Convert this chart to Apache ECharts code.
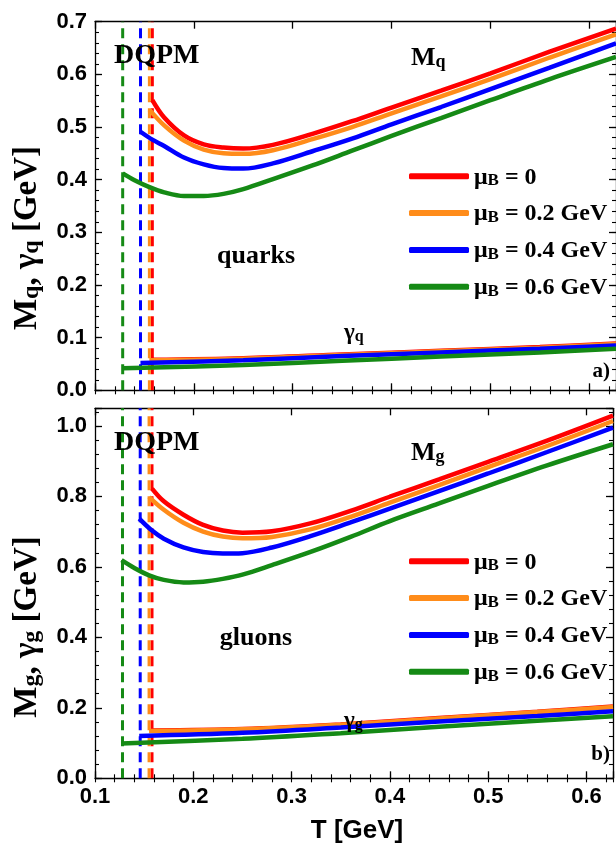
<!DOCTYPE html>
<html><head><meta charset="utf-8">
<script src="https://cdn.jsdelivr.net/npm/echarts@6/dist/echarts.min.js"></script>
<style>html,body{margin:0;padding:0;background:#fff}#c{width:616px;height:850px}</style>
</head><body><div id="c"></div>
<script>
// ---- data ----
const seriesNames = ['μB = 0', 'μB = 0.2 GeV', 'μB = 0.4 GeV', 'μB = 0.6 GeV'];
const legendValues = ['0', '0.2 GeV', '0.4 GeV', '0.6 GeV'];
const colors = ['#ff0000', '#ff8c1a', '#0000ff', '#158a15'];
const Tc = [0.158, 0.155, 0.146, 0.128];

// quark mass M_q (top panel)
const mqT0 = [0.158,0.17,0.19,0.21,0.23,0.25,0.28,0.32,0.36,0.40,0.45,0.50,0.56,0.627];
const mqV0 = [0.551,0.518,0.484,0.467,0.461,0.459,0.466,0.487,0.511,0.537,0.569,0.602,0.643,0.687];
const mqT1 = [0.155,0.17,0.19,0.21,0.23,0.25,0.28,0.32,0.36,0.40,0.45,0.50,0.56,0.627];
const mqV1 = [0.533,0.503,0.474,0.457,0.450,0.449,0.456,0.477,0.500,0.526,0.558,0.591,0.632,0.676];
const mqT2 = [0.146,0.158,0.17,0.19,0.21,0.23,0.25,0.28,0.32,0.36,0.40,0.45,0.50,0.56,0.627];
const mqV2 = [0.491,0.476,0.464,0.442,0.429,0.422,0.421,0.431,0.454,0.478,0.505,0.538,0.572,0.613,0.659];
const mqT3 = [0.128,0.14,0.155,0.17,0.19,0.21,0.23,0.25,0.28,0.32,0.36,0.40,0.45,0.50,0.56,0.627];
const mqV3 = [0.412,0.399,0.386,0.376,0.369,0.369,0.373,0.382,0.401,0.427,0.455,0.483,0.517,0.551,0.591,0.633];

// quark width gamma_q (top panel)
const gqT0 = [0.158,0.25,0.35,0.45,0.55,0.627];
const gqV0 = [0.058,0.061,0.068,0.075,0.082,0.089];
const gqT1 = [0.155,0.25,0.35,0.45,0.55,0.627];
const gqV1 = [0.057,0.060,0.067,0.074,0.081,0.088];
const gqT2 = [0.146,0.25,0.35,0.45,0.55,0.627];
const gqV2 = [0.052,0.057,0.065,0.072,0.079,0.085];
const gqT3 = [0.128,0.25,0.35,0.45,0.55,0.627];
const gqV3 = [0.042,0.048,0.056,0.064,0.072,0.079];

// gluon mass M_g (bottom panel)
const mgT0 = [0.158,0.17,0.19,0.21,0.23,0.25,0.28,0.32,0.36,0.40,0.45,0.50,0.56,0.627];
const mgV0 = [0.822,0.786,0.748,0.719,0.703,0.697,0.701,0.724,0.759,0.799,0.848,0.898,0.958,1.029];
const mgT1 = [0.155,0.17,0.19,0.21,0.23,0.25,0.28,0.32,0.36,0.40,0.45,0.50,0.56,0.627];
const mgV1 = [0.798,0.762,0.725,0.700,0.686,0.681,0.685,0.707,0.742,0.782,0.832,0.883,0.943,1.014];
const mgT2 = [0.145,0.158,0.17,0.19,0.21,0.23,0.25,0.28,0.32,0.36,0.40,0.45,0.50,0.56,0.627];
const mgV2 = [0.737,0.703,0.680,0.655,0.642,0.638,0.639,0.655,0.688,0.726,0.765,0.815,0.865,0.926,0.995];
const mgT3 = [0.127,0.14,0.155,0.17,0.19,0.21,0.23,0.25,0.28,0.32,0.36,0.40,0.45,0.50,0.56,0.627];
const mgV3 = [0.619,0.597,0.576,0.563,0.556,0.558,0.566,0.578,0.605,0.643,0.685,0.730,0.780,0.830,0.888,0.948];

// gluon width gamma_g (bottom panel)
const ggT0 = [0.158,0.25,0.35,0.45,0.55,0.627];
const ggV0 = [0.136,0.140,0.153,0.171,0.189,0.204];
const ggT1 = [0.155,0.25,0.35,0.45,0.55,0.627];
const ggV1 = [0.134,0.139,0.152,0.170,0.188,0.202];
const ggT2 = [0.145,0.25,0.35,0.45,0.55,0.627];
const ggV2 = [0.120,0.129,0.144,0.161,0.177,0.190];
const ggT3 = [0.127,0.25,0.35,0.45,0.55,0.627];
const ggV3 = [0.099,0.112,0.128,0.146,0.163,0.176];

// ---- layout / style ----
const X_MIN = 0.1, X_MAX = 0.627;
const panels = [
  {top: 21.7, height: 368.6, yMax: 0.7, yInt: 0.1, yMinor: 0.02, showX: false,
   M: [[mqT0,mqV0],[mqT1,mqV1],[mqT2,mqV2],[mqT3,mqV3]],
   G: [[gqT0,gqV0],[gqT1,gqV1],[gqT2,gqV2],[gqT3,gqV3]]},
  {top: 408.3, height: 370, yMax: 1.05, yInt: 0.2, yMinor: 0.04, showX: true,
   M: [[mgT0,mgV0],[mgT1,mgV1],[mgT2,mgV2],[mgT3,mgV3]],
   G: [[ggT0,ggV0],[ggT1,ggV1],[ggT2,ggV2],[ggT3,ggV3]]}
];
const SANS = '"Liberation Sans", Arial, sans-serif';
const SERIF = '"Liberation Serif", "Times New Roman", serif';
const isMult = (v, step) => Math.abs(v / step - Math.round(v / step)) < 1e-6;

function axisCommon(extra) {
  return Object.assign({
    type: 'value', splitLine: {show: false},
    axisLine: {onZero: false, lineStyle: {color: '#000', width: 1.3}},
    axisTick: {inside: true, length: 7, lineStyle: {color: '#000', width: 1.3}},
    axisLabel: {show: false}
  }, extra);
}
const minorTick = {inside: true, length: 4, lineStyle: {color: '#000', width: 1.1}};

const xAxes = [], yAxes = [], grids = [], series = [], legends = [];
panels.forEach((p, g) => {
  grids.push({left: 95, width: 524, top: p.top, height: p.height, containLabel: false});
  const xl = {show: p.showX, color: '#000', fontFamily: SANS, fontWeight: 'bold', fontSize: 22, margin: 8,
              formatter: v => isMult(v, 0.1) ? v.toFixed(1) : ''};
  xAxes.push(axisCommon({gridIndex: g, position: 'bottom', min: X_MIN, max: X_MAX, interval: 0.1, axisLabel: xl}));
  xAxes.push(axisCommon({gridIndex: g, position: 'bottom', min: X_MIN, max: X_MAX, interval: 0.02,
    axisLine: {show: false}, axisTick: minorTick}));
  xAxes.push(axisCommon({gridIndex: g, position: 'top', min: X_MIN, max: X_MAX, interval: 0.1}));
  xAxes.push(axisCommon({gridIndex: g, position: 'top', min: X_MIN, max: X_MAX, interval: 0.02,
    axisLine: {show: false}, axisTick: minorTick}));
  const yl = {show: true, color: '#000', fontFamily: SANS, fontWeight: 'bold', fontSize: 22, margin: 8,
              formatter: v => isMult(v, p.yInt) ? v.toFixed(1) : ''};
  yAxes.push(axisCommon({gridIndex: g, position: 'left', min: 0, max: p.yMax, interval: p.yInt, axisLabel: yl}));
  yAxes.push(axisCommon({gridIndex: g, position: 'left', min: 0, max: p.yMax, interval: p.yMinor,
    axisLine: {show: false}, axisTick: minorTick}));
  yAxes.push(axisCommon({gridIndex: g, position: 'right', min: 0, max: p.yMax, interval: p.yInt}));
  yAxes.push(axisCommon({gridIndex: g, position: 'right', min: 0, max: p.yMax, interval: p.yMinor,
    axisLine: {show: false}, axisTick: minorTick}));

  const xi = g * 4, yi = g * 4;
  // dashed T_c lines
  Tc.forEach((t, i) => {
    series.push({type: 'line', name: 'Tc ' + i, xAxisIndex: xi, yAxisIndex: yi, silent: true,
      data: [[t, 0], [t, p.yMax]], showSymbol: false, animation: false, z: 1,
      lineStyle: {color: colors[i], width: 3, type: [10, 6]}});
  });
  [p.M, p.G].forEach(set => set.forEach((d, i) => {
    series.push({type: 'line', name: seriesNames[i], xAxisIndex: xi, yAxisIndex: yi, silent: true,
      data: d[0].map((t, k) => [t, d[1][k]]), showSymbol: false, smooth: 0.35,
      animation: false, z: 3,
      lineStyle: {color: colors[i], width: 4.5}, itemStyle: {color: colors[i]}});
  }));
  legends.push({
    data: seriesNames, orient: 'vertical', left: 409, top: g === 0 ? 165.3 : 550.3,
    padding: 0, itemWidth: 60, itemHeight: 6, itemGap: 12.8, icon: 'roundRect',
    selectedMode: false,
    formatter: name => '{n|μ}{s|B}{n| = ' + legendValues[seriesNames.indexOf(name)] + '}',
    textStyle: {rich: {
      n: {fontFamily: SERIF, fontWeight: 'bold', fontSize: 24, lineHeight: 26, color: '#000', verticalAlign: 'bottom'},
      s: {fontFamily: SERIF, fontWeight: 'bold', fontSize: 17, lineHeight: 12, color: '#000', verticalAlign: 'bottom'}
    }}
  });
});

function richText(x, y, parts, size, align, rot, subRatio) {
  const subSize = Math.round(size * (subRatio || 0.68));
  const text = parts.map(pt => (pt[1] ? '{s|' : '{n|') + pt[0] + '}').join('');
  return {type: 'text', x, y, rotation: rot || 0, silent: true, z: 10,
    style: {text, align: align || 'left', verticalAlign: 'middle',
      rich: {
        n: {fontFamily: SERIF, fontWeight: 'bold', fontSize: size, lineHeight: size + 2, fill: '#000', verticalAlign: 'bottom'},
        s: {fontFamily: SERIF, fontWeight: 'bold', fontSize: subSize, lineHeight: size + 2 - Math.round(size * 0.6), fill: '#000', verticalAlign: 'bottom'}
      }}};
}
function plain(x, y, text, font, align) {
  return {type: 'text', x, y, silent: true, z: 10,
    style: {text, font, fill: '#000', align: align || 'left', verticalAlign: 'middle'}};
}

const graphics = [
  plain(114, 56, 'DQPM', 'bold 28px ' + SERIF),
  plain(114, 443, 'DQPM', 'bold 28px ' + SERIF),
  richText(411, 57, [['M', 0], ['q', 1]], 26),
  richText(411, 452, [['M', 0], ['g', 1]], 26),
  plain(256, 256, 'quarks', 'bold 26px ' + SERIF, 'center'),
  plain(256, 638, 'gluons', 'bold 26px ' + SERIF, 'center'),
  richText(344, 332, [['γ', 0], ['q', 1]], 23),
  richText(344, 720, [['γ', 0], ['g', 1]], 23),
  plain(610, 372, 'a)', 'bold 21px ' + SERIF, 'right'),
  plain(610, 755, 'b)', 'bold 21px ' + SERIF, 'right'),
  richText(26, 238, [['M', 0], ['q', 1], [', γ', 0], ['q', 1], [' [GeV]', 0]], 33, 'center', Math.PI / 2, 0.72),
  richText(26, 627, [['M', 0], ['g', 1], [', γ', 0], ['g', 1], [' [GeV]', 0]], 33, 'center', Math.PI / 2, 0.72),
  plain(357, 831, 'T [GeV]', 'bold 26px ' + SANS, 'center')
];

const chart = echarts.init(document.getElementById('c'), null, {renderer: 'canvas'});
chart.setOption({
  backgroundColor: '#fff', animation: false,
  grid: grids, xAxis: xAxes, yAxis: yAxes, series, legend: legends, graphic: graphics
});
</script></body></html>
